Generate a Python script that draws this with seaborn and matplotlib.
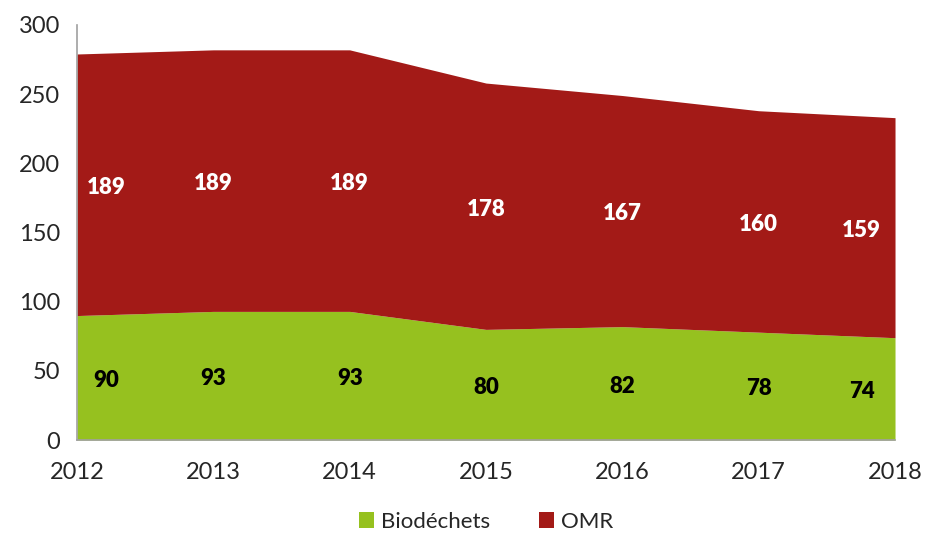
import numpy as np
import seaborn as sns
import matplotlib.pyplot as plt

years = [2012, 2013, 2014, 2015, 2016, 2017, 2018]
biodechets = [90, 93, 93, 80, 82, 78, 74]
omr = [189, 189, 189, 178, 167, 160, 159]

green = '#96C11F'
red = '#A31A17'

sns.set_theme(style='white')
plt.rcParams['font.family'] = ['Lato', 'DejaVu Sans']

fig = plt.figure(figsize=(9.27, 5.42), dpi=100)
ax = fig.add_axes([0.083, 0.188, 0.8825, 0.766])

ax.stackplot(years, biodechets, omr, colors=[green, red], labels=['Biodéchets', 'OMR'],
             linewidth=0)

ax.set_xlim(2012, 2018)
ax.set_ylim(0, 300)
ax.set_yticks(range(0, 301, 50))
ax.set_xticks(years)
ax.tick_params(axis='both', labelsize=17, length=0)
ax.tick_params(axis='x', pad=16)
ax.tick_params(axis='y', pad=12)

for side in ['top', 'right']:
    ax.spines[side].set_visible(False)
for side in ['left', 'bottom']:
    ax.spines[side].set_color('#A0A0A0')
    ax.spines[side].set_linewidth(1.2)

# labels centred in each band, ends nudged inward like the original
offsets = [21, 0, 0, 0, 0, 0, -24]
for i, yr in enumerate(years):
    b = biodechets[i]
    o = omr[i]
    ax.annotate(str(b), (yr, b / 2), xytext=(offsets[i], -2), textcoords='offset points',
                ha='center', va='center', fontsize=16, fontweight='heavy', color='black')
    ax.annotate(str(o), (yr, b + o / 2), xytext=(offsets[i], -2), textcoords='offset points',
                ha='center', va='center', fontsize=16, fontweight='heavy', color='white')

ax.legend(loc='upper center', bbox_to_anchor=(0.5, -0.14), ncol=2, frameon=False,
          fontsize=16, handlelength=0.7, handleheight=0.7, handletextpad=0.3, columnspacing=2.2,
          borderaxespad=0.2)

fig.savefig('out.png', dpi=100)
